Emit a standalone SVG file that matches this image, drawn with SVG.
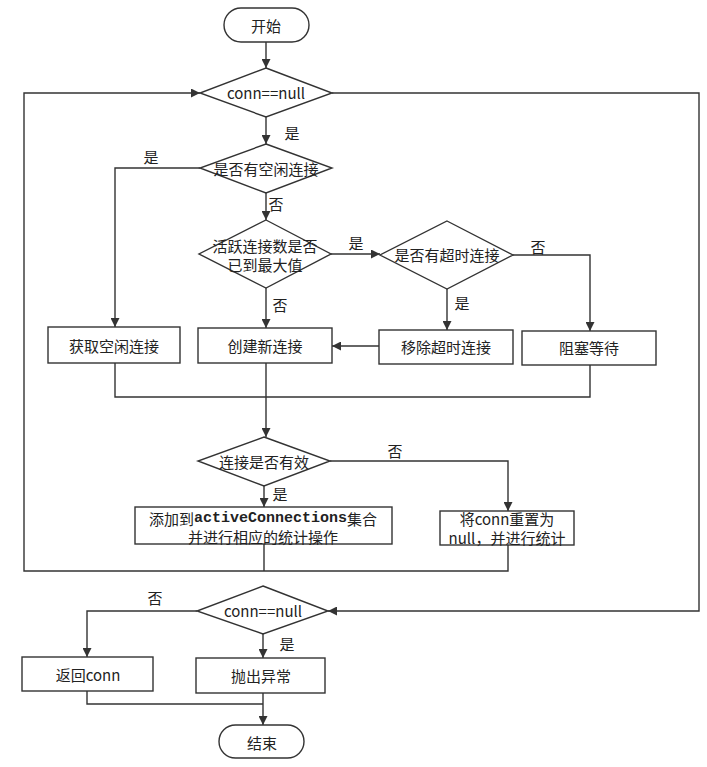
<svg xmlns="http://www.w3.org/2000/svg" width="707" height="767" viewBox="0 0 707 767">
<style>
.s{fill:#fff;stroke:#333;stroke-width:1.4}
.l{fill:none;stroke:#333;stroke-width:1.4}
text{font-family:"Noto Sans CJK SC","Noto Sans",sans-serif;font-size:15px;fill:#222;text-anchor:middle;dominant-baseline:central}
.m{font-family:"Liberation Mono","Noto Sans CJK SC",monospace;font-weight:bold}
</style>
<defs>
<marker id="a" viewBox="0 0 10 10" refX="10" refY="5" markerWidth="9" markerHeight="9" markerUnits="userSpaceOnUse" orient="auto">
<path d="M0,0 L10,5 L0,10 z" fill="#333"/>
</marker>
</defs>
<rect width="707" height="767" fill="#fff"/>
<g id="connectors">
<path class="l" d="M266,42 V68" marker-end="url(#a)"/>
<path class="l" d="M266,117 V144" marker-end="url(#a)"/>
<path class="l" d="M200,168 H115 V327" marker-end="url(#a)"/>
<path class="l" d="M266,193 V220" marker-end="url(#a)"/>
<path class="l" d="M331,254 H380" marker-end="url(#a)"/>
<path class="l" d="M266,288 V328" marker-end="url(#a)"/>
<path class="l" d="M513,255 H590 V331" marker-end="url(#a)"/>
<path class="l" d="M447,289 V330" marker-end="url(#a)"/>
<path class="l" d="M379,346 H332" marker-end="url(#a)"/>
<path class="l" d="M115,363 V397 H590 V365"/>
<path class="l" d="M266,363 V437" marker-end="url(#a)"/>
<path class="l" d="M330,461 H508 V511" marker-end="url(#a)"/>
<path class="l" d="M264,486 V507" marker-end="url(#a)"/>
<path class="l" d="M264,544 V571"/>
<path class="l" d="M508,545 V571 H24 V93 H200" marker-end="url(#a)"/>
<path class="l" d="M332,93 H699 V611 H328" marker-end="url(#a)"/>
<path class="l" d="M197,611 H87 V657" marker-end="url(#a)"/>
<path class="l" d="M263,634 V658" marker-end="url(#a)"/>
<path class="l" d="M87,691 V704 H263"/>
<path class="l" d="M263,693 V725" marker-end="url(#a)"/>
<text x="292" y="132">是</text>
<text x="151" y="156">是</text>
<text x="276" y="203">否</text>
<text x="280" y="304">否</text>
<text x="356" y="242">是</text>
<text x="538" y="246">否</text>
<text x="462" y="302">是</text>
<text x="395" y="450">否</text>
<text x="280" y="493">是</text>
<text x="155" y="597">否</text>
<text x="287" y="643">是</text>
</g>
<g id="start"><rect class="s" x="224" y="8" width="85" height="34" rx="17"/><text x="266" y="25">开始</text></g>
<g id="check1"><path class="s" d="M266,68 L332,93 L266,117 L200,93 z"/><text x="266" y="92">conn==null</text></g>
<g id="idle"><path class="s" d="M266,144 L332,168 L266,193 L200,168 z"/><text x="266" y="168">是否有空闲连接</text></g>
<g id="max"><path class="s" d="M266,220 L331,254 L266,288 L199,254 z"/><text x="265" y="245">活跃连接数是否</text><text x="265" y="264">已到最大值</text></g>
<g id="timeout"><path class="s" d="M447,221 L513,255 L447,289 L380,255 z"/><text x="447" y="254">是否有超时连接</text></g>
<g id="getIdle"><rect class="s" x="48" y="327" width="132" height="36"/><text x="114" y="345">获取空闲连接</text></g>
<g id="create"><rect class="s" x="198" y="328" width="134" height="35"/><text x="265" y="345">创建新连接</text></g>
<g id="remove"><rect class="s" x="379" y="330" width="134" height="34"/><text x="446" y="346">移除超时连接</text></g>
<g id="block"><rect class="s" x="522" y="331" width="134" height="34"/><text x="589" y="347">阻塞等待</text></g>
<g id="valid"><path class="s" d="M264,437 L330,461 L264,486 L198,461 z"/><text x="264" y="461">连接是否有效</text></g>
<g id="add"><rect class="s" x="135" y="507" width="257" height="37"/><text x="263" y="518"><tspan>添加到</tspan><tspan class="m">activeConnections</tspan><tspan>集合</tspan></text><text x="263" y="536">并进行相应的统计操作</text></g>
<g id="reset"><rect class="s" x="440" y="511" width="134" height="34"/><text x="507" y="518">将conn重置为</text><text x="507" y="537">null，并进行统计</text></g>
<g id="check2"><path class="s" d="M263,586 L328,611 L263,634 L197,611 z"/><text x="263" y="610">conn==null</text></g>
<g id="ret"><rect class="s" x="22" y="657" width="131" height="34"/><text x="88" y="674">返回conn</text></g>
<g id="throw"><rect class="s" x="196" y="658" width="129" height="35"/><text x="261" y="675">抛出异常</text></g>
<g id="end"><rect class="s" x="219" y="725" width="85" height="33" rx="16.5"/><text x="262" y="742">结束</text></g>
</svg>
